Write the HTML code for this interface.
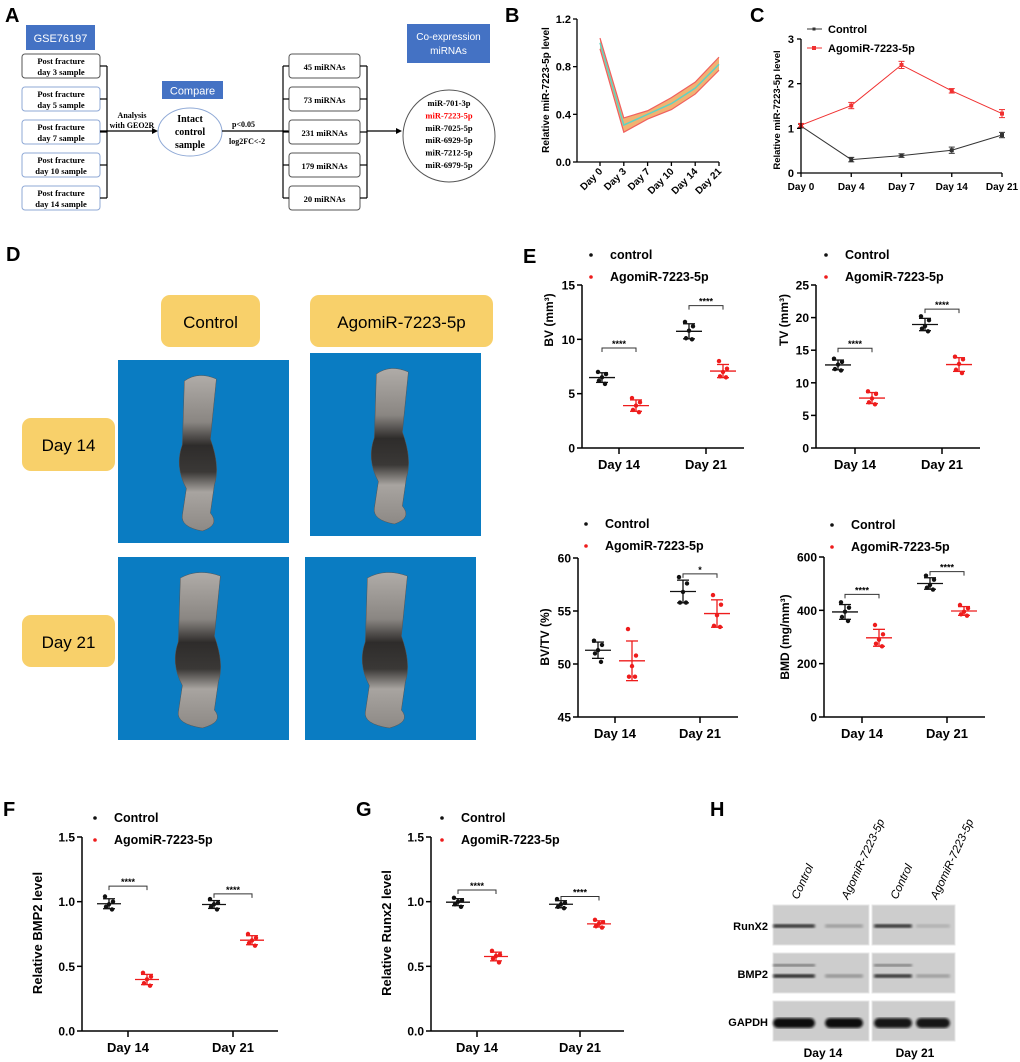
<!DOCTYPE html>
<html><head><meta charset="utf-8"><style>
html,body{margin:0;padding:0;background:#fff;}
svg{display:block;font-family:"Liberation Sans",sans-serif;}
.ser{font-family:"Liberation Serif",serif;font-weight:bold;}
.b{font-weight:bold;}
</style></head><body>
<svg id="fig" width="1020" height="1062" viewBox="0 0 1020 1062" xmlns="http://www.w3.org/2000/svg">
<defs>
<linearGradient id="boneG" x1="0" y1="0" x2="0" y2="1">
<stop offset="0" stop-color="#b0aca8"/><stop offset="0.3" stop-color="#8a8682"/><stop offset="0.45" stop-color="#2e2c2b"/><stop offset="0.62" stop-color="#3a3836"/><stop offset="0.75" stop-color="#a8a4a0"/><stop offset="1" stop-color="#8d8985"/>
</linearGradient>
<filter id="blur1"><feGaussianBlur stdDeviation="1.4"/></filter>
</defs>

<!-- PANEL A -->
<g>
<text x="5" y="22" class="b" font-size="20">A</text>
<rect x="26" y="25" width="69" height="25" fill="#4472c4"/>
<text x="60.5" y="42" fill="#fff" font-size="11" text-anchor="middle">GSE76197</text>
<g id="leftBoxes"></g>
<line x1="107" y1="66" x2="107" y2="198" stroke="#000" stroke-width="1.2"/>
<line x1="100" y1="131" x2="156" y2="131" stroke="#000" stroke-width="1.2"/>
<polygon points="158,131 152,128 152,134" fill="#000"/>
<text x="132" y="118" class="ser" font-size="8" text-anchor="middle">Analysis</text>
<text x="132" y="128" class="ser" font-size="8" text-anchor="middle">with GEO2R</text>
<rect x="162" y="81" width="61" height="18" fill="#4472c4"/>
<text x="192.5" y="94.5" fill="#fff" font-size="11" text-anchor="middle">Compare</text>
<ellipse cx="190" cy="132" rx="32" ry="24" fill="#fff" stroke="#8fa9d6" stroke-width="1"/>
<text x="190" y="122" class="ser" font-size="10" text-anchor="middle">Intact</text>
<text x="190" y="135" class="ser" font-size="10" text-anchor="middle">control</text>
<text x="190" y="148" class="ser" font-size="10" text-anchor="middle">sample</text>
<line x1="222" y1="131" x2="289" y2="131" stroke="#000" stroke-width="1.2"/>
<text x="232" y="127" class="ser" font-size="8">p&lt;0.05</text>
<text x="229" y="144" class="ser" font-size="8">log2FC&lt;-2</text>
<g id="midBoxes"></g>
<line x1="283" y1="66" x2="283" y2="198" stroke="#000" stroke-width="1.2"/>
<line x1="367" y1="66" x2="367" y2="198" stroke="#000" stroke-width="1.2"/>
<line x1="367" y1="131" x2="398" y2="131" stroke="#000" stroke-width="1.2"/>
<polygon points="402,131 396,128 396,134" fill="#000"/>
<rect x="407" y="24" width="83" height="39" fill="#4472c4"/>
<text x="448.5" y="40" fill="#fff" font-size="10" text-anchor="middle">Co-expression</text>
<text x="448.5" y="54" fill="#fff" font-size="10" text-anchor="middle">miRNAs</text>
<circle cx="449" cy="136" r="46" fill="#fff" stroke="#555" stroke-width="1"/>
<g id="mirList"></g>
</g>

<!-- PANEL B -->
<g id="panelB">
<text x="505" y="22" class="b" font-size="20">B</text>
</g>
<!-- PANEL C -->
<g id="panelC">
<text x="750" y="22" class="b" font-size="20">C</text>
</g>

<!-- PANEL D -->
<g id="panelD">
<text x="6" y="261" class="b" font-size="20">D</text>
<rect x="161" y="295" width="99" height="52" rx="9" fill="#f8d06a"/>
<text x="210.5" y="328" font-size="17" text-anchor="middle">Control</text>
<rect x="310" y="295" width="183" height="52" rx="9" fill="#f8d06a"/>
<text x="401.5" y="328" font-size="17" text-anchor="middle">AgomiR-7223-5p</text>
<rect x="22" y="418" width="93" height="53" rx="9" fill="#f8d06a"/>
<text x="68.5" y="451" font-size="17" text-anchor="middle">Day 14</text>
<rect x="22" y="615" width="93" height="52" rx="9" fill="#f8d06a"/>
<text x="68.5" y="648" font-size="17" text-anchor="middle">Day 21</text>
</g>

<!-- PANEL E / F / G -->
<g id="panelE">
<text x="523" y="263" class="b" font-size="20">E</text>
</g>
<g id="panelF">
<text x="3" y="816" class="b" font-size="20">F</text>
</g>
<g id="panelG">
<text x="356" y="816" class="b" font-size="20">G</text>
</g>
<!-- PANEL H -->
<g id="panelH">
<text x="710" y="816" class="b" font-size="20">H</text>
</g>
</svg>
<script>
// ---------- DATA ----------
const sampleLabels = ["day 3 sample","day 5 sample","day 7 sample","day 10 sample","day 14 sample"];
const mirnaCounts = ["45 miRNAs","73 miRNAs","231 miRNAs","179 miRNAs","20 miRNAs"];
const coMirnas = ["miR-701-3p","miR-7223-5p","miR-7025-5p","miR-6929-5p","miR-7212-5p","miR-6979-5p"];

const bCategories = ["Day 0","Day 3","Day 7","Day 10","Day 14","Day 21"];
const bMean = [1.00, 0.31, 0.40, 0.49, 0.62, 0.82];
const bUpper = [1.04, 0.37, 0.43, 0.54, 0.67, 0.88];
const bLower = [0.95, 0.25, 0.36, 0.44, 0.57, 0.77];
const bTicks = [0.0, 0.4, 0.8, 1.2];

const cCategories = ["Day 0","Day 4","Day 7","Day 14","Day 21"];
const cControl = [1.05, 0.30, 0.39, 0.51, 0.85];
const cControlErr = [0.04, 0.05, 0.04, 0.07, 0.06];
const cAgomir = [1.07, 1.51, 2.42, 1.84, 1.33];
const cAgomirErr = [0.04, 0.07, 0.08, 0.05, 0.09];
const cTicks = [0, 1, 2, 3];

const eDays = ["Day 14","Day 21"];
const bvControl = [[7.0,6.8,6.5,6.2,5.9],[11.6,11.2,10.8,10.1,10.0]];
const bvAgomir = [[4.6,4.2,3.9,3.5,3.3],[8.0,7.3,7.0,6.6,6.5]];
const bvSig = [[9.2,"****"],[13.1,"****"]];
const bvTicks = [0,5,10,15];
const tvControl = [[13.7,13.2,12.8,12.1,11.9],[20.2,19.6,18.7,18.3,17.9]];
const tvAgomir = [[8.7,8.3,7.6,7.0,6.7],[14.0,13.6,12.9,12.0,11.5]];
const tvSig = [[15.3,"****"],[21.3,"****"]];
const tvTicks = [0,5,10,15,20,25];
const bvtvControl = [[52.2,51.8,51.3,51.0,50.2],[58.2,57.6,56.8,55.8,55.8]];
const bvtvAgomir = [[53.3,50.8,49.8,48.8,48.8],[56.5,55.6,54.6,53.6,53.5]];
const bvtvSig = [[null,""],[58.5,"*"]];
const bvtvTicks = [45,50,55,60];
const bmdControl = [[430,410,395,375,360],[530,515,495,485,478]];
const bmdAgomir = [[345,310,290,275,265],[420,408,395,385,380]];
const bmdSig = [[460,"****"],[545,"****"]];
const bmdTicks = [0,200,400,600];
const bmp2Control = [[1.04,1.00,0.98,0.96,0.94],[1.02,0.99,0.98,0.96,0.94]];
const bmp2Agomir = [[0.45,0.42,0.40,0.37,0.35],[0.75,0.72,0.70,0.68,0.66]];
const bmp2Sig = [[1.12,"****"],[1.06,"****"]];
const runx2Control = [[1.03,1.01,1.00,0.98,0.96],[1.02,0.99,0.98,0.96,0.95]];
const runx2Agomir = [[0.62,0.59,0.58,0.56,0.53],[0.86,0.84,0.83,0.81,0.80]];
const runx2Sig = [[1.09,"****"],[1.04,"****"]];
const relTicks = [0.0,0.5,1.0,1.5];
const blotProteins = ["RunX2","BMP2","GAPDH"];
const blotLanes = ["Control","AgomiR-7223-5p","Control","AgomiR-7223-5p"];
const runx2Band = [0.85, 0.25, 0.85, 0.15];
const bmp2Band = [0.9, 0.3, 0.85, 0.25];
const gapdhBand = [1.0, 1.0, 0.95, 0.95];

// ---------- HELPERS ----------
const NS = "http://www.w3.org/2000/svg";
function mk(parent, tag, attrs, name, inter) {
  const el = document.createElementNS(NS, tag);
  for (const k in attrs) el.setAttribute(k, attrs[k]);
  
  
  parent.appendChild(el);
  return el;
}
function txt(parent, x, y, s, size, extra, name) {
  const a = Object.assign({x: x, y: y, 'font-size': size}, extra || {});
  const t = mk(parent, 'text', a, name || 'label', false);
  t.textContent = s;
  return t;
}
function lin(parent, x1, y1, x2, y2, col, w, name) {
  return mk(parent, 'line', {x1:x1, y1:y1, x2:x2, y2:y2, stroke:col || '#000', 'stroke-width': w || 1.5}, name || 'line', false);
}
const fmt1 = v => v.toFixed(1);

// ---------- PANEL A ----------
const lb = document.getElementById('leftBoxes');
sampleLabels.forEach((s, i) => {
  const y = 54 + i * 33;
  mk(lb, 'rect', {x:22, y:y, width:78, height:24, rx:3, fill:'#fff', stroke: i === 0 ? '#555' : '#8fa9d6', 'stroke-width':1}, 'sample-box', false);
  txt(lb, 61, y + 10, 'Post fracture', 8.5, {'text-anchor':'middle', class:'ser'}, 'sample-box-title');
  txt(lb, 61, y + 21, s, 8.5, {'text-anchor':'middle', class:'ser'}, 'sample-box-day');
  lin(lb, 100, y + 12, 107, y + 12, '#000', 1.2, 'bracket-tick');
});
const mb = document.getElementById('midBoxes');
mirnaCounts.forEach((s, i) => {
  const y = 54 + i * 33;
  mk(mb, 'rect', {x:289, y:y, width:71, height:24, rx:3, fill:'#fff', stroke:'#555', 'stroke-width':1}, 'mirna-count-box', false);
  txt(mb, 324.5, y + 16, s, 8.5, {'text-anchor':'middle', class:'ser'}, 'mirna-count-label');
  lin(mb, 283, y + 12, 289, y + 12, '#000', 1.2, 'bracket-tick');
  lin(mb, 360, y + 12, 367, y + 12, '#000', 1.2, 'bracket-tick');
});
const ml = document.getElementById('mirList');
coMirnas.forEach((s, i) => {
  txt(ml, 449, 106 + i * 12.4, s, 8.5, {'text-anchor':'middle', class:'ser', fill: i === 1 ? '#ff0000' : '#000'}, 'mirna-name');
});

// ---------- PANEL B ----------
(function(){
  const g = document.getElementById('panelB');
  const x0 = 577, x1 = 719, yT = 19, yB = 162;
  const xs = i => 600 + i * (719 - 600) / (bCategories.length - 1);
  const ys = v => yB - (v - 0) / (1.2 - 0) * (yB - yT);
  let up = bUpper.map((v,i)=>xs(i)+','+ys(v)).join(' ');
  let lo = bLower.map((v,i)=>xs(i)+','+ys(v)).reverse().join(' ');
  mk(g, 'polygon', {points: up + ' ' + lo, fill:'#f2b271'}, 'confidence-band', false);
  mk(g, 'polyline', {points: bUpper.map((v,i)=>xs(i)+','+ys(v)).join(' '), fill:'none', stroke:'#f06060', 'stroke-width':1.2}, 'band-upper-line', false);
  mk(g, 'polyline', {points: bLower.map((v,i)=>xs(i)+','+ys(v)).join(' '), fill:'none', stroke:'#f06060', 'stroke-width':1.2}, 'band-lower-line', false);
  mk(g, 'polyline', {points: bMean.map((v,i)=>xs(i)+','+ys(v)).join(' '), fill:'none', stroke:'#5fd3c2', 'stroke-width':1.5}, 'mean-line', false);
  lin(g, x0, yT, x0, yB, '#000', 1.3, 'y-axis');
  lin(g, x0, yB, x1, yB, '#000', 1.3, 'x-axis');
  bTicks.forEach(t => {
    lin(g, x0 - 4, ys(t), x0, ys(t), '#000', 1.3, 'y-tick');
    txt(g, x0 - 6, ys(t) + 4, fmt1(t), 11, {'text-anchor':'end', class:'b'}, 'y-tick-label');
  });
  bCategories.forEach((c, i) => {
    lin(g, xs(i), yB, xs(i), yB + 4, '#000', 1.3, 'x-tick');
    txt(g, xs(i) + 3, yB + 10, c, 10, {'text-anchor':'end', class:'b', transform:'rotate(-45 '+(xs(i)+3)+' '+(yB+10)+')'}, 'x-tick-label');
  });
  txt(g, 0, 0, 'Relative miR-7223-5p level', 10, {'text-anchor':'middle', class:'b', transform:'translate(549 90) rotate(-90)'}, 'y-axis-title');
})();

// ---------- PANEL C ----------
(function(){
  const g = document.getElementById('panelC');
  const x0 = 801, x1 = 1002, yT = 39, yB = 173;
  const xs = i => x0 + i * (x1 - x0) / (cCategories.length - 1);
  const ys = v => yB - v / 3 * (yB - yT);
  function series(vals, errs, col, nm) {
    mk(g, 'polyline', {points: vals.map((v,i)=>xs(i)+','+ys(v)).join(' '), fill:'none', stroke:col, 'stroke-width':1}, nm + '-line', false);
    vals.forEach((v, i) => {
      lin(g, xs(i), ys(v - errs[i]), xs(i), ys(v + errs[i]), col, 1, nm + '-error-bar');
      lin(g, xs(i) - 3, ys(v + errs[i]), xs(i) + 3, ys(v + errs[i]), col, 1, nm + '-error-cap');
      lin(g, xs(i) - 3, ys(v - errs[i]), xs(i) + 3, ys(v - errs[i]), col, 1, nm + '-error-cap');
      mk(g, 'rect', {x: xs(i) - 2, y: ys(v) - 2, width:4, height:4, fill:col}, nm + '-point', false);
    });
  }
  series(cControl, cControlErr, '#333', 'control');
  series(cAgomir, cAgomirErr, '#f03030', 'agomir');
  lin(g, x0, yT, x0, yB, '#000', 1.3, 'y-axis');
  lin(g, x0, yB, x1, yB, '#000', 1.3, 'x-axis');
  cTicks.forEach(t => {
    lin(g, x0 - 4, ys(t), x0, ys(t), '#000', 1.3, 'y-tick');
    txt(g, x0 - 7, ys(t) + 4, String(t), 11, {'text-anchor':'end', class:'b'}, 'y-tick-label');
  });
  cCategories.forEach((c, i) => {
    lin(g, xs(i), yB, xs(i), yB + 4, '#000', 1.3, 'x-tick');
    txt(g, xs(i), yB + 17, c, 10, {'text-anchor':'middle', class:'b'}, 'x-tick-label');
  });
  txt(g, 0, 0, 'Relative miR-7223-5p level', 9.5, {'text-anchor':'middle', class:'b', transform:'translate(780 110) rotate(-90)'}, 'y-axis-title');
  lin(g, 807, 29, 822, 29, '#333', 1, 'legend-control-line');
  mk(g, 'rect', {x:812.5, y:27.5, width:3, height:3, fill:'#333'}, 'legend-control-marker', false);
  txt(g, 828, 33, 'Control', 11, {class:'b'}, 'legend-control-label');
  lin(g, 807, 48, 822, 48, '#f03030', 1, 'legend-agomir-line');
  mk(g, 'rect', {x:812, y:46, width:4, height:4, fill:'#f03030'}, 'legend-agomir-marker', false);
  txt(g, 828, 52, 'AgomiR-7223-5p', 11, {class:'b'}, 'legend-agomir-label');
})();

// ---------- PANEL D (images) ----------
(function(){
  const g = document.getElementById('panelD');
  const imgs = [[118,360,171,183,'control-day14-image'],[310,353,171,183,'agomir-day14-image'],[118,557,171,183,'control-day21-image'],[305,557,171,183,'agomir-day21-image']];
  imgs.forEach((im, k) => {
    const [x, y, w, h, nm] = im;
    mk(g, 'rect', {x:x, y:y, width:w, height:h, fill:'#0a7cc2'}, nm, false);
    const cx = x + w * 0.47, t = y + 15, b = y + h - 12, hw = k < 2 ? 18 : 22;
    const d = `M${cx-hw+4},${t+6} Q${cx},${t-4} ${cx+hw},${t+4} L${cx+hw-6},${t+h*0.35} Q${cx+hw+4},${t+h*0.5} ${cx+hw-2},${t+h*0.6} L${cx+hw-6},${b-18} Q${cx+hw+4},${b-6} ${cx+4},${b} Q${cx-hw},${b-4} ${cx-hw+2},${b-16} L${cx-hw+6},${t+h*0.62} Q${cx-hw-6},${t+h*0.5} ${cx-hw+2},${t+h*0.38} Z`;
    mk(g, 'path', {d:d, fill:'url(#boneG)', stroke:'#555', 'stroke-width':0.5}, 'bone-render', false);
  });
})();

// ---------- DOT PLOTS ----------
const jit = [-4, 4, 0, -3, 3];
function dotPlot(cfg) {
  const g = document.getElementById(cfg.group);
  const yRange = cfg.ticks[cfg.ticks.length - 1] - cfg.ticks[0];
  const ys = v => cfg.yB - (v - cfg.ticks[0]) / yRange * (cfg.yB - cfg.yT);
  const xc = [cfg.tick14, cfg.tick21];
  function grp(pts, cx, col, nm) {
    const m = pts.reduce((a,b)=>a+b,0) / pts.length;
    const sd = Math.sqrt(pts.reduce((a,b)=>a+(b-m)*(b-m),0) / (pts.length - 1));
    lin(g, cx - cfg.mw, ys(m), cx + cfg.mw, ys(m), col, 1.3, nm + '-mean-line');
    lin(g, cx, ys(m - sd), cx, ys(m + sd), col, 1.3, nm + '-sd-bar');
    lin(g, cx - 6, ys(m + sd), cx + 6, ys(m + sd), col, 1.3, nm + '-sd-cap');
    lin(g, cx - 6, ys(m - sd), cx + 6, ys(m - sd), col, 1.3, nm + '-sd-cap');
    pts.forEach((p, i) => mk(g, 'circle', {cx: cx + jit[i], cy: ys(p), r: 2.2, fill: col}, nm + '-point', false));
  }
  [0, 1].forEach(d => {
    grp(cfg.ctrl[d], xc[d] - cfg.off, '#111', 'control-' + eDays[d].replace(' ', '').toLowerCase());
    grp(cfg.ago[d], xc[d] + cfg.off, '#ee1c1c', 'agomir-' + eDays[d].replace(' ', '').toLowerCase());
    const s = cfg.sig[d];
    if (s[0] !== null) {
      const y = ys(s[0]), xa = xc[d] - cfg.off, xb = xc[d] + cfg.off;
      mk(g, 'polyline', {points: `${xa},${y+4} ${xa},${y} ${xb},${y} ${xb},${y+4}`, fill:'none', stroke:'#333', 'stroke-width':1}, 'significance-bracket', false);
      txt(g, (xa + xb) / 2, y - 1, s[1], 9, {'text-anchor':'middle', class:'b'}, 'significance-stars');
    }
  });
  lin(g, cfg.x0, cfg.yT, cfg.x0, cfg.yB, '#000', 1.5, 'y-axis');
  lin(g, cfg.x0, cfg.yB, cfg.x1, cfg.yB, '#000', 1.5, 'x-axis');
  cfg.ticks.forEach(t => {
    lin(g, cfg.x0 - 5, ys(t), cfg.x0, ys(t), '#000', 1.5, 'y-tick');
    txt(g, cfg.x0 - 7, ys(t) + 4.5, cfg.fmt ? cfg.fmt(t) : String(t), 12, {'text-anchor':'end', class:'b'}, 'y-tick-label');
  });
  eDays.forEach((c, d) => {
    lin(g, xc[d], cfg.yB, xc[d], cfg.yB + 6, '#000', 1.5, 'x-tick');
    txt(g, xc[d], cfg.yB + 21, c, 13, {'text-anchor':'middle', class:'b'}, 'x-tick-label');
  });
  txt(g, 0, 0, cfg.title, cfg.tsize || 12, {'text-anchor':'middle', class:'b', transform:`translate(${cfg.tx} ${cfg.ty}) rotate(-90)`}, 'y-axis-title');
  mk(g, 'circle', {cx: cfg.lx, cy: cfg.ly - 4, r: 1.8, fill:'#111'}, 'legend-control-marker', false);
  txt(g, cfg.lx + 19, cfg.ly, cfg.ctrlName || 'Control', 12.5, {class:'b'}, 'legend-control-label');
  mk(g, 'circle', {cx: cfg.lx, cy: cfg.ly + 18, r: 1.8, fill:'#ee1c1c'}, 'legend-agomir-marker', false);
  txt(g, cfg.lx + 19, cfg.ly + 22, 'AgomiR-7223-5p', 12.5, {class:'b'}, 'legend-agomir-label');
}
dotPlot({group:'panelE', x0:582, x1:744, yT:285, yB:448, ticks:bvTicks, tick14:619, tick21:706, off:17, mw:13, ctrl:bvControl, ago:bvAgomir, sig:bvSig, title:'BV (mm³)', tx:553, ty:320, lx:591, ly:259, ctrlName:'control'});
dotPlot({group:'panelE', x0:816, x1:980, yT:285, yB:448, ticks:tvTicks, tick14:855, tick21:942, off:17, mw:13, ctrl:tvControl, ago:tvAgomir, sig:tvSig, title:'TV (mm³)', tx:788, ty:320, lx:826, ly:259});
dotPlot({group:'panelE', x0:578, x1:738, yT:558, yB:717, ticks:bvtvTicks, tick14:615, tick21:700, off:17, mw:13, ctrl:bvtvControl, ago:bvtvAgomir, sig:bvtvSig, title:'BV/TV (%)', tx:549, ty:637, lx:586, ly:528});
dotPlot({group:'panelE', x0:824, x1:985, yT:557, yB:717, ticks:bmdTicks, tick14:862, tick21:947, off:17, mw:13, ctrl:bmdControl, ago:bmdAgomir, sig:bmdSig, title:'BMD (mg/mm³)', tx:789, ty:637, lx:832, ly:529});
dotPlot({group:'panelF', x0:82, x1:278, yT:837, yB:1031, ticks:relTicks, tick14:128, tick21:233, off:19, mw:12, ctrl:bmp2Control, ago:bmp2Agomir, sig:bmp2Sig, title:'Relative BMP2 level', tsize:13, tx:42, ty:933, lx:95, ly:822, fmt:fmt1});
dotPlot({group:'panelG', x0:431, x1:624, yT:837, yB:1031, ticks:relTicks, tick14:477, tick21:580, off:19, mw:12, ctrl:runx2Control, ago:runx2Agomir, sig:runx2Sig, title:'Relative Runx2 level', tsize:13, tx:391, ty:933, lx:442, ly:822, fmt:fmt1});

// ---------- PANEL H ----------
(function(){
  const g = document.getElementById('panelH');
  const panels = [[773, 96], [872, 83]];
  const rows = [905, 953, 1001];
  const laneX = [794, 844, 893, 933];
  const laneW = [42, 38, 38, 34];
  const bandSets = [runx2Band, bmp2Band, gapdhBand];
  blotProteins.forEach((p, r) => {
    panels.forEach((pp, k) => mk(g, 'rect', {x:pp[0], y:rows[r], width:pp[1], height:40, fill:'#cdcdcd', stroke:'#e6e6e6', 'stroke-width':1}, p.toLowerCase() + '-blot-panel', false));
    txt(g, 768, rows[r] + 25, p, 11, {'text-anchor':'end', class:'b'}, p.toLowerCase() + '-row-label');
    bandSets[r].forEach((v, l) => {
      const hgt = r === 2 ? 10 : 3.5;
      const cy = r === 0 ? 926 : r === 1 ? 976 : 1023;
      mk(g, 'rect', {x: laneX[l] - laneW[l]/2, y: cy - hgt/2, width: laneW[l], height: hgt, rx: hgt/2, fill:'#111', opacity: v, filter:'url(#blur1)'}, p.toLowerCase() + '-band', false);
      if (r === 1 && l % 2 === 0) mk(g, 'rect', {x: laneX[l] - laneW[l]/2, y: 964, width: laneW[l], height: 2.5, fill:'#222', opacity: v * 0.6, filter:'url(#blur1)'}, 'bmp2-upper-band', false);
    });
  });
  blotLanes.forEach((s, l) => {
    const x = laneX[l] + 4, y = 900;
    txt(g, x, y, s, 11.5, {'font-style':'italic', transform:`rotate(-65 ${x} ${y})`}, 'lane-label');
  });
  txt(g, 823, 1057, 'Day 14', 12, {'text-anchor':'middle', class:'b'}, 'blot-day14-label');
  txt(g, 915, 1057, 'Day 21', 12, {'text-anchor':'middle', class:'b'}, 'blot-day21-label');
})();
</script>
</body></html>
